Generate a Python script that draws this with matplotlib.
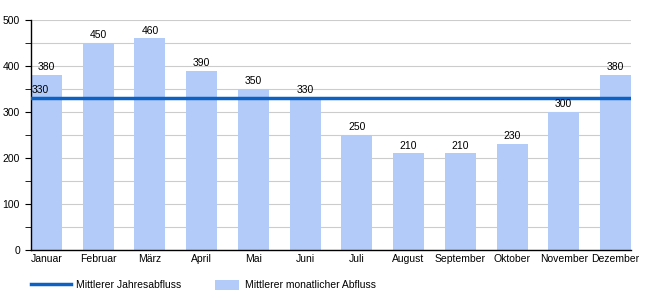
import matplotlib
matplotlib.use("Agg")
import matplotlib.pyplot as plt
from matplotlib.ticker import MultipleLocator
from matplotlib.lines import Line2D
from matplotlib.patches import Patch

months = ["Januar", "Februar", "März", "April", "Mai", "Juni", "Juli",
          "August", "September", "Oktober", "November", "Dezember"]
monthly = [380, 450, 460, 390, 350, 330, 250, 210, 210, 230, 300, 380]
annual = 330

plt.rcParams['font.family'] = ['Liberation Sans', 'DejaVu Sans']

fig = plt.figure(figsize=(6.5, 3.0), dpi=100)
ax = fig.add_axes([31/650, 50/300, 600/650, 230/300])

bar_color = "#b3cbf9"
line_color = "#0b62c4"

x = list(range(len(months)))
ax.bar(x, monthly, width=0.6, color=bar_color, zorder=2)
for xi, v in zip(x, monthly):
    ax.text(xi, v + 6, str(v), ha="center", va="bottom", fontsize=7.5, zorder=4)

ax.axhline(annual, color=line_color, lw=2.5, zorder=3)
ax.text(-0.28, annual + 6, str(annual), ha="left", va="bottom", fontsize=7.5, zorder=4)

ax.set_xlim(-0.3, len(months) - 0.7)
ax.set_ylim(0, 500)
ax.set_xticks(x)
ax.set_xticklabels(months, fontsize=7.5)
ax.yaxis.set_major_locator(MultipleLocator(100))
ax.yaxis.set_minor_locator(MultipleLocator(50))
ax.tick_params(axis="y", labelsize=7.5, length=4, pad=4)
ax.tick_params(axis="y", which="minor", length=4)
ax.tick_params(axis="x", length=0, pad=3)
ax.grid(axis="y", which="both", color="#cccccc", lw=0.8, zorder=0)
for s in ["top", "right"]:
    ax.spines[s].set_visible(False)
ax.spines["left"].set_linewidth(1.0)
ax.spines["bottom"].set_linewidth(1.0)

fs = 7.5
px_per_fs = fs * 100 / 72
leg1 = fig.legend([Line2D([0], [0], color=line_color, lw=2.5)],
                  ["Mittlerer Jahresabfluss"],
                  loc="center left", bbox_to_anchor=(31/650, 15/300),
                  frameon=False, fontsize=fs, borderpad=0, borderaxespad=0,
                  handlelength=40/px_per_fs, handletextpad=5/px_per_fs)
fig.legend([Patch(facecolor=bar_color, edgecolor="none")],
           ["Mittlerer monatlicher Abfluss"],
           loc="center left", bbox_to_anchor=(215/650, 15/300),
           frameon=False, fontsize=fs, borderpad=0, borderaxespad=0,
           handlelength=24/px_per_fs, handleheight=12/px_per_fs,
           handletextpad=6/px_per_fs)

fig.savefig("out.png", dpi=100)
